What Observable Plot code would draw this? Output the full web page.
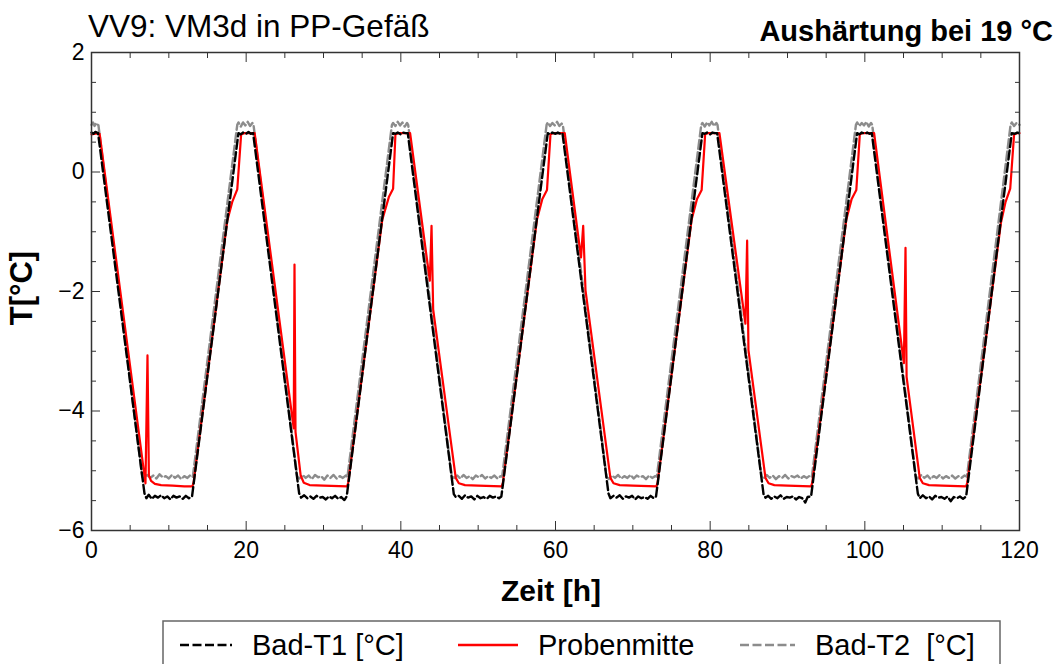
<!DOCTYPE html>
<html><head><meta charset="utf-8">
<script src="https://cdn.jsdelivr.net/npm/d3@7"></script>
<script src="https://cdn.jsdelivr.net/npm/@observablehq/plot@0.6"></script>
<style>
html,body{margin:0;padding:0;background:#fff;}
#wrap{position:relative;width:1059px;height:664px;overflow:hidden;font-family:"Liberation Sans",Arial,sans-serif;}
#chart{position:absolute;left:0;top:0;}
#overlay{position:absolute;left:0;top:0;pointer-events:none;}
</style></head>
<body><div id="wrap"><div id="chart"></div>
<svg id="overlay" width="1059" height="664" font-family="Liberation Sans, Arial, sans-serif"></svg>
</div>
<script>
// ---- texts ----
const titleLeft = "VV9: VM3d in PP-Gefäß";
const titleRight = "Aushärtung bei 19 °C";
const xTitle = "Zeit [h]";
const yTitle = "T[°C]";
const legendLabels = ["Bad-T1 [°C]", "Probenmitte", "Bad-T2\u00a0\u00a0[°C]"];

// ---- ticks ----
const xMajor = [0, 20, 40, 60, 80, 100, 120];
const xMinor = [5, 10, 15, 25, 30, 35, 45, 50, 55, 65, 70, 75, 85, 90, 95, 105, 110, 115];
const yMajor = [-6, -4, -2, 0, 2];
const yMinor = [-5.5, -5, -4.5, -3.5, -3, -2.5, -1.5, -1, -0.5, 0.5, 1, 1.5];

// ---- series: [time h, temperature °C] ----
const badT1 = [
  [0,0.66],[0.25,0.64],[0.5,0.67],[0.85,0.65],
  [6.85,-5.38],[7.1,-5.46],[7.4,-5.40],[7.8,-5.47],[8.2,-5.42],[8.6,-5.45],[9.0,-5.41],[9.4,-5.46],[9.8,-5.43],[10.2,-5.48],[10.6,-5.42],[11.0,-5.45],[11.4,-5.43],[11.8,-5.47],[12.2,-5.42],[12.6,-5.46],[13.0,-5.43],
  [19.0,0.65],[19.3,0.63],[19.6,0.66],[20.0,0.64],[20.3,0.67],[20.6,0.64],[20.9,0.65],
  [26.85,-5.38],[27.1,-5.45],[27.5,-5.41],[27.9,-5.46],[28.3,-5.43],[28.7,-5.47],[29.1,-5.42],[29.5,-5.45],[29.9,-5.44],[30.3,-5.48],[30.7,-5.43],[31.1,-5.46],[31.5,-5.42],[31.9,-5.47],[32.3,-5.44],[32.7,-5.49],[33.0,-5.43],
  [39.0,0.65],[39.3,0.64],[39.6,0.66],[40.0,0.63],[40.3,0.66],[40.6,0.65],[40.9,0.65],
  [46.85,-5.39],[47.1,-5.44],[47.5,-5.42],[47.9,-5.47],[48.3,-5.41],[48.7,-5.45],[49.1,-5.43],[49.5,-5.48],[49.9,-5.42],[50.3,-5.46],[50.7,-5.44],[51.1,-5.47],[51.5,-5.42],[51.9,-5.45],[52.3,-5.43],[52.7,-5.46],[53.0,-5.43],
  [59.0,0.65],[59.3,0.63],[59.6,0.66],[60.0,0.64],[60.3,0.66],[60.6,0.64],[60.9,0.65],
  [66.85,-5.38],[67.1,-5.46],[67.5,-5.42],[67.9,-5.45],[68.3,-5.41],[68.7,-5.47],[69.1,-5.43],[69.5,-5.45],[69.9,-5.42],[70.3,-5.48],[70.7,-5.43],[71.1,-5.46],[71.5,-5.44],[71.9,-5.47],[72.3,-5.42],[72.7,-5.46],[73.0,-5.43],
  [79.0,0.65],[79.3,0.64],[79.6,0.66],[80.0,0.63],[80.3,0.66],[80.6,0.65],[80.9,0.65],
  [86.9,-5.39],[87.15,-5.45],[87.5,-5.42],[87.9,-5.47],[88.3,-5.43],[88.7,-5.46],[89.1,-5.41],[89.5,-5.47],[89.9,-5.44],[90.3,-5.45],[90.7,-5.43],[91.1,-5.48],[91.5,-5.44],[91.9,-5.46],[92.3,-5.53],[92.6,-5.44],[93.05,-5.43],
  [99.0,0.65],[99.3,0.63],[99.6,0.66],[100.0,0.64],[100.3,0.66],[100.6,0.64],[100.9,0.65],
  [106.85,-5.38],[107.1,-5.46],[107.5,-5.41],[107.9,-5.46],[108.3,-5.43],[108.7,-5.48],[109.1,-5.42],[109.5,-5.45],[109.9,-5.44],[110.3,-5.47],[110.7,-5.43],[111.1,-5.51],[111.5,-5.44],[111.9,-5.46],[112.3,-5.43],[112.7,-5.47],[113.1,-5.43],
  [119.0,0.65],[119.4,0.64],[119.7,0.66],[120,0.65]
];

const probenmitte = [
  [0,0.63],[0.5,0.64],[1.05,0.64],
  [6.98,-5.21],[7.24,-3.07],[7.42,-5.08],[7.7,-5.17],[8.2,-5.22],[9.0,-5.24],[10.5,-5.25],[12.0,-5.26],[13.05,-5.26],
  [13.2,-5.2],[17.55,-0.82],[18.2,-0.5],[18.85,-0.29],[19.35,0.63],[19.8,0.65],[21.1,0.65],
  [26.15,-4.29],[26.25,-1.55],[26.38,-4.35],[27.05,-5.08],[27.45,-5.2],[28.2,-5.24],[30.0,-5.25],[33.05,-5.26],
  [33.2,-5.2],[37.6,-0.8],[38.45,-0.42],[39.0,-0.28],[39.3,0.63],[39.7,0.65],[41.2,0.65],
  [43.75,-1.82],[43.97,-0.9],[44.18,-2.3],[47.1,-5.12],[47.5,-5.21],[48.3,-5.24],[50.0,-5.25],[53.05,-5.26],
  [53.2,-5.2],[57.6,-0.8],[58.3,-0.45],[58.9,-0.3],[59.35,0.63],[59.7,0.65],[61.2,0.65],
  [63.3,-1.43],[63.58,-0.9],[63.88,-1.98],[67.1,-5.12],[67.5,-5.21],[68.3,-5.24],[70.0,-5.25],[73.05,-5.26],
  [73.2,-5.2],[77.6,-0.8],[78.3,-0.45],[78.9,-0.3],[79.35,0.63],[79.7,0.65],[81.2,0.65],
  [84.56,-2.54],[84.78,-1.15],[84.95,-2.98],[87.15,-5.12],[87.55,-5.21],[88.3,-5.24],[90.0,-5.25],[93.05,-5.26],
  [93.2,-5.2],[97.6,-0.8],[98.3,-0.45],[98.9,-0.3],[99.35,0.63],[99.7,0.65],[101.2,0.65],
  [105.05,-3.2],[105.26,-1.27],[105.4,-3.43],[107.1,-5.12],[107.5,-5.21],[108.3,-5.24],[110.0,-5.25],[113.1,-5.26],
  [113.25,-5.2],[117.6,-0.85],[118.2,-0.5],[118.8,-0.28],[119.3,0.63],[119.7,0.65],[120,0.65]
];

const badT2 = [
  [0,0.79],[0.2,0.83],[0.4,0.77],[0.6,0.82],[0.9,0.78],
  [6.55,-5.1],[6.8,-5.14],[7.2,-5.07],[7.6,-5.12],[8.0,-5.08],[8.4,-5.13],[8.8,-5.06],[9.2,-5.11],[9.6,-5.09],[10.0,-5.13],[10.4,-5.07],[10.8,-5.12],[11.2,-5.08],[11.6,-5.14],[12.0,-5.09],[12.4,-5.12],[12.8,-5.07],[13.1,-5.1],
  [18.85,0.79],[19.0,0.83],[19.3,0.76],[19.6,0.83],[19.9,0.78],[20.2,0.84],[20.5,0.77],[20.8,0.82],[20.95,0.79],
  [26.6,-5.1],[26.9,-5.13],[27.3,-5.07],[27.7,-5.12],[28.1,-5.08],[28.5,-5.14],[28.9,-5.07],[29.3,-5.11],[29.7,-5.09],[30.1,-5.15],[30.5,-5.08],[30.9,-5.12],[31.3,-5.07],[31.7,-5.13],[32.1,-5.09],[32.5,-5.12],[32.9,-5.08],[33.1,-5.1],
  [38.85,0.79],[39.0,0.82],[39.3,0.77],[39.6,0.84],[39.9,0.78],[40.2,0.83],[40.5,0.76],[40.8,0.82],[40.95,0.79],
  [46.6,-5.1],[46.9,-5.12],[47.3,-5.08],[47.7,-5.13],[48.1,-5.07],[48.5,-5.12],[48.9,-5.09],[49.3,-5.14],[49.7,-5.08],[50.1,-5.11],[50.5,-5.07],[50.9,-5.13],[51.3,-5.09],[51.7,-5.12],[52.1,-5.08],[52.5,-5.13],[52.9,-5.09],[53.1,-5.1],
  [58.85,0.79],[59.0,0.83],[59.3,0.77],[59.6,0.82],[59.9,0.78],[60.2,0.84],[60.5,0.77],[60.8,0.81],[60.95,0.79],
  [66.6,-5.1],[66.9,-5.14],[67.3,-5.08],[67.7,-5.12],[68.1,-5.07],[68.5,-5.13],[68.9,-5.09],[69.3,-5.12],[69.7,-5.07],[70.1,-5.13],[70.5,-5.08],[70.9,-5.11],[71.3,-5.09],[71.7,-5.14],[72.1,-5.08],[72.5,-5.12],[72.9,-5.09],[73.1,-5.1],
  [78.85,0.79],[79.0,0.82],[79.3,0.76],[79.6,0.83],[79.9,0.78],[80.2,0.84],[80.5,0.77],[80.8,0.82],[80.95,0.79],
  [86.65,-5.1],[86.9,-5.13],[87.3,-5.07],[87.7,-5.12],[88.1,-5.08],[88.5,-5.14],[88.9,-5.09],[89.3,-5.12],[89.7,-5.07],[90.1,-5.13],[90.5,-5.09],[90.9,-5.11],[91.3,-5.08],[91.7,-5.13],[92.1,-5.09],[92.5,-5.12],[92.9,-5.08],[93.15,-5.1],
  [98.85,0.79],[99.0,0.83],[99.3,0.77],[99.6,0.82],[99.9,0.78],[100.2,0.84],[100.5,0.76],[100.8,0.82],[100.95,0.79],
  [106.6,-5.1],[106.9,-5.13],[107.3,-5.07],[107.7,-5.12],[108.1,-5.08],[108.5,-5.14],[108.9,-5.09],[109.3,-5.12],[109.7,-5.07],[110.1,-5.13],[110.5,-5.09],[110.9,-5.12],[111.3,-5.08],[111.7,-5.13],[112.1,-5.09],[112.5,-5.12],[112.9,-5.08],[113.2,-5.1],
  [118.85,0.79],[119.0,0.83],[119.3,0.77],[119.6,0.82],[120,0.79]
];

const fmt = d => d < 0 ? "\u2212" + Math.abs(d) : String(d);
const dash = "9,3.5";

const plot = Plot.plot({
  width: 1059, height: 664,
  marginTop: 52, marginBottom: 134, marginLeft: 91, marginRight: 40,
  x: {domain: [0, 120]},
  y: {domain: [-6, 2]},
  style: {fontFamily: "Liberation Sans, Arial, sans-serif", fontSize: "23px", color: "#000", background: "transparent"},
  marks: [
    Plot.line(badT2, {x: d => d[0], y: d => d[1], stroke: "#8c8c8c", strokeWidth: 2.4, strokeDasharray: dash}),
    Plot.line(probenmitte, {x: d => d[0], y: d => d[1], stroke: "#ff0000", strokeWidth: 2.2}),
    Plot.line(badT1, {x: d => d[0], y: d => d[1], stroke: "#000", strokeWidth: 2.4, strokeDasharray: dash}),
    Plot.frame({stroke: "#333", strokeWidth: 1.5}),
    Plot.axisX({ticks: xMinor, anchor: "bottom", tickSize: -5, tickFormat: () => "", label: null, stroke: "#333"}),
    Plot.axisX({ticks: xMajor, anchor: "bottom", tickSize: -9, tickFormat: () => "", label: null, stroke: "#333"}),
    Plot.axisX({ticks: xMinor, anchor: "top", tickSize: -5, tickFormat: () => "", label: null, stroke: "#333"}),
    Plot.axisX({ticks: xMajor, anchor: "top", tickSize: -9, tickFormat: () => "", label: null, stroke: "#333"}),
    Plot.axisY({ticks: yMinor, anchor: "left", tickSize: -5, tickFormat: () => "", label: null, stroke: "#333"}),
    Plot.axisY({ticks: yMajor, anchor: "left", tickSize: -9, tickFormat: () => "", label: null, stroke: "#333"}),
    Plot.axisY({ticks: yMinor, anchor: "right", tickSize: -5, tickFormat: () => "", label: null, stroke: "#333"}),
    Plot.axisY({ticks: yMajor, anchor: "right", tickSize: -9, tickFormat: () => "", label: null, stroke: "#333"}),
    Plot.axisX({ticks: xMajor, anchor: "bottom", tickSize: 0, tickPadding: 11, label: null, tickFormat: fmt}),
    Plot.axisY({ticks: yMajor, anchor: "left", tickSize: 0, tickPadding: 7, label: null, tickFormat: fmt})
  ]
});
document.getElementById("chart").appendChild(plot);

// ---- overlay texts and legend ----
const ov = d3.select("#overlay");
ov.append("text").attr("x", 88).attr("y", 37).attr("font-size", 31.5).text(titleLeft);
ov.append("text").attr("x", 1053).attr("y", 41).attr("font-size", 29).attr("font-weight", "bold").attr("text-anchor", "end").text(titleRight);
ov.append("text").attr("x", 551).attr("y", 601).attr("font-size", 30).attr("font-weight", "bold").attr("text-anchor", "middle").text(xTitle);
ov.append("text").attr("transform", "translate(32,288) rotate(-90)").attr("font-size", 31).attr("font-weight", "bold").attr("text-anchor", "middle").text(yTitle);

ov.append("rect").attr("x", 163).attr("y", 621).attr("width", 837).attr("height", 60).attr("fill", "#fff").attr("stroke", "#666").attr("stroke-width", 1.5);
const legendStyles = [
  {stroke: "#000", dash: dash, x1: 180, x2: 232, tx: 252},
  {stroke: "#ff0000", dash: null, x1: 458, x2: 518, tx: 538},
  {stroke: "#8c8c8c", dash: dash, x1: 740, x2: 795, tx: 815}
];
legendStyles.forEach((s, i) => {
  ov.append("line").attr("x1", s.x1).attr("x2", s.x2).attr("y1", 645).attr("y2", 645)
    .attr("stroke", s.stroke).attr("stroke-width", 2.4).attr("stroke-dasharray", s.dash);
  ov.append("text").attr("x", s.tx).attr("y", 655).attr("font-size", 29).text(legendLabels[i]);
});
</script>
</body></html>
